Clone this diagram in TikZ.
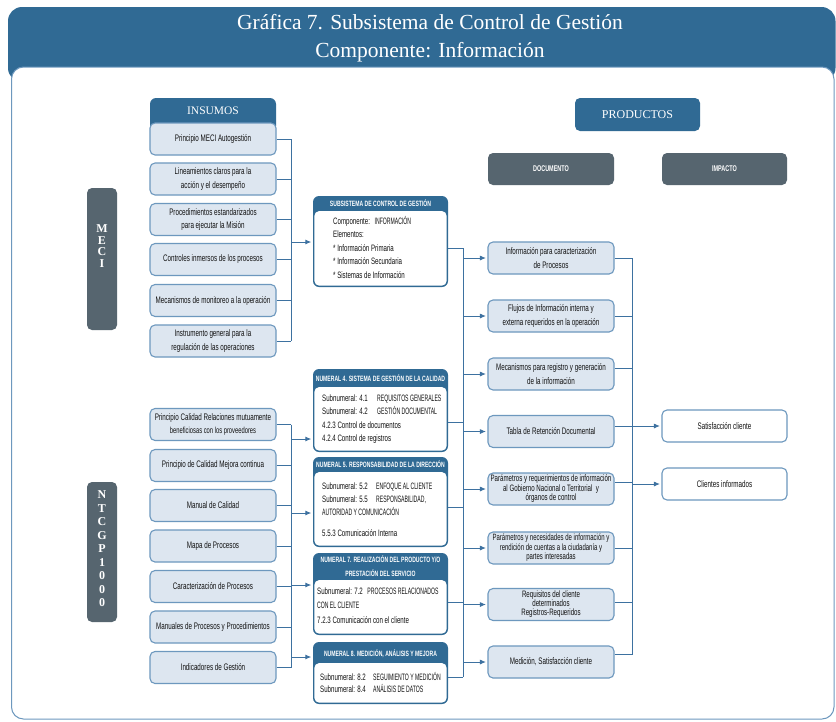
\documentclass[tikz,border=0pt]{standalone}
\usepackage{fontspec}
\setmainfont{Liberation Serif}
\newfontfamily\cond[FakeStretch=0.66]{Liberation Sans}
\newfontfamily\condc[FakeStretch=0.55]{Liberation Sans}
\usetikzlibrary{arrows.meta,calc}
\definecolor{hdrblue}{HTML}{306A94}
\definecolor{slate}{HTML}{56656F}
\definecolor{lightfill}{HTML}{DDE6F0}
\definecolor{bord}{HTML}{6D98BE}
\definecolor{lineblue}{HTML}{3D71A0}
\definecolor{txt}{HTML}{111111}
\newcommand\capsc[1]{{\condc #1}}
\begin{document}
\begin{tikzpicture}[x=1pt,y=-1pt,
  ibox/.style={draw=bord, line width=1.1pt, fill=lightfill, rounded corners=5pt, minimum width=126pt, minimum height=32pt, inner sep=1pt, align=center, text=txt, font=\cond\fontsize{9.5}{13.5}\selectfont},
  impbox/.style={ibox, fill=white, minimum width=125pt},
  grayhdr/.style={fill=slate, rounded corners=5pt, minimum width=126pt, minimum height=32pt, text=white, font=\cond\bfseries\fontsize{8.3}{9}\selectfont},
  bluehdr/.style={fill=hdrblue, rounded corners=5pt, minimum width=125pt, minimum height=33pt, text=white, font=\fontsize{12}{14}\selectfont},
  sidebar/.style={fill=slate, rounded corners=5pt, minimum width=30pt, inner sep=0pt},
  sidetext/.style={text=white, align=center, inner sep=0pt, font=\bfseries\fontsize{12}{11.5}\selectfont},
  cshell/.style={fill=hdrblue, rounded corners=6pt, minimum width=135pt, inner sep=0pt},
  chdr/.style={text=white, align=center, inner sep=0pt, font=\cond\bfseries\fontsize{7.7}{14}\selectfont},
  cbody/.style={text=txt, align=left, inner sep=0pt, anchor=north west, font=\cond\fontsize{9.3}{13.5}\selectfont},
  conn/.style={draw=lineblue, line width=0.9pt},
  arr/.style={conn, -{Latex[length=6pt,width=5pt]}, shorten >=1.5pt},
]
\useasboundingbox (0,0) rectangle (836,721);
% frame
\fill[hdrblue, rounded corners=14pt] (8,7) rectangle (835.5,82);
\draw[draw=bord, line width=1pt, fill=white, rounded corners=12pt] (11.5,67) rectangle (834,719);
\node[text=white, anchor=base, font=\fontsize{21.5}{26}\selectfont] (t1) at (430,29) {Gráfica 7. Subsistema de Control de Gestión};
\node[text=white, anchor=base, font=\fontsize{21.5}{26}\selectfont] (t2) at (430,57) {Componente: Información};

% side bars
\node[sidebar, minimum height=142pt] (meci) at (102,259) {};
\node[sidetext] (mecit) at (102,246) {M\\E\\C\\I};
\node[sidebar, minimum height=140pt] (ntc) at (102,552) {};
\node[sidetext, font=\bfseries\fontsize{12}{13.5}\selectfont] (ntct) at (102,549) {N\\T\\C\\G\\P\\1\\0\\0\\0};

% insumos header
\fill[hdrblue, rounded corners=6pt] (150,98) rectangle (276,132);
\node[text=white, font=\fontsize{11.5}{13}\selectfont] (insumos) at (213,111) {INSUMOS};

% MECI boxes
\node[ibox] (m1) at (213,139) {Principio MECI Autogestión};
\node[ibox] (m2) at (213,179) {Lineamientos claros para la\\acción y el desempeño};
\node[ibox] (m3) at (213,219.5) {Procedimientos estandarizados\\para ejecutar la Misión};
\node[ibox] (m4) at (213,259.5) {Controles inmersos de los procesos};
\node[ibox] (m5) at (213,300.5) {Mecanismos de monitoreo a la operación};
\node[ibox] (m6) at (213,341) {Instrumento general para la\\regulación de las operaciones};

% NTCGP boxes
\node[ibox] (n1) at (213,424.5) {Principio Calidad Relaciones mutuamente\\{\fontsize{8.8}{12}\selectfont beneficiosas con los proveedores}};
\node[ibox] (n2) at (213,465.5) {Principio de Calidad Mejora continua};
\node[ibox] (n3) at (213,505.5) {Manual de Calidad};
\node[ibox] (n4) at (213,546) {Mapa de Procesos};
\node[ibox] (n5) at (213,586.5) {Caracterización de Procesos};
\node[ibox] (n6) at (213,627) {Manuales de Procesos y Procedimientos};
\node[ibox] (n7) at (213,667.5) {Indicadores de Gestión};

% center boxes
\node[cshell, minimum height=91pt] (sub) at (380.5,241.5) {};
\fill[white, rounded corners=5pt] (314.3,211) rectangle (446.7,285.7);
\node[chdr] (subh) at (380.5,203.5) {SUBSISTEMA DE CONTROL DE GESTIÓN};
\node[cbody] (subb) at (333,216) {Componente:\enspace \capsc{INFORMACIÓN}\\Elementos:\\* Información Primaria\\* Información Secundaria\\* Sistemas de Información};

\node[cshell, minimum height=83pt] (c4) at (380.5,410.5) {};
\fill[white, rounded corners=5pt] (314.3,387) rectangle (446.7,450.7);
\node[chdr] (c4h) at (380.5,378) {NUMERAL 4. SISTEMA DE GESTIÓN DE LA CALIDAD};
\node[cbody, font=\cond\fontsize{9.3}{13.3}\selectfont] (c4b) at (322,394.5) {\makebox[55pt][l]{Subnumeral: 4.1}\capsc{REQUISITOS GENERALES}\\\makebox[55pt][l]{Subnumeral: 4.2}\capsc{GESTIÓN DOCUMENTAL}\\4.2.3 Control de documentos\\4.2.4 Control de registros};

\node[cshell, minimum height=90pt] (c5) at (380.5,502) {};
\fill[white, rounded corners=5pt] (314.3,472) rectangle (446.7,545.7);
\node[chdr] (c5h) at (380.5,464.5) {NUMERAL 5. RESPONSABILIDAD DE LA DIRECCIÓN};
\node[cbody, font=\cond\fontsize{9.3}{13}\selectfont] (c5b) at (322,482.5) {\makebox[54pt][l]{Subnumeral: 5.2}\capsc{ENFOQUE AL CLIENTE}\\\makebox[54pt][l]{Subnumeral: 5.5}\capsc{RESPONSABILIDAD,}\\\capsc{AUTORIDAD Y COMUNICACIÓN}\\[8pt]5.5.3 Comunicación Interna};

\node[cshell, minimum height=82pt] (c7) at (380.5,594) {};
\fill[white, rounded corners=5pt] (314.3,580) rectangle (446.7,633.7);
\node[chdr] (c7h) at (380.5,566) {NUMERAL 7. REALIZACIÓN DEL PRODUCTO Y/O\\PRESTACIÓN DEL SERVICIO};
\node[cbody, font=\cond\fontsize{9.3}{14.5}\selectfont] (c7b) at (317,587.5) {Subnumeral: 7.2\enspace \capsc{PROCESOS RELACIONADOS}\\\capsc{CON EL CLIENTE}\\7.2.3 Comunicación con el cliente};

\node[cshell, minimum height=62pt] (c8) at (380.5,673) {};
\fill[white, rounded corners=5pt] (314.3,663) rectangle (446.7,702.7);
\node[chdr] (c8h) at (380.5,653.5) {NUMERAL 8. MEDICIÓN, ANÁLISIS Y MEJORA};
\node[cbody, font=\cond\fontsize{9.3}{12}\selectfont] (c8b) at (320,672.5) {\makebox[53pt][l]{Subnumeral: 8.2}\capsc{SEGUIMIENTO Y MEDICIÓN}\\\makebox[53pt][l]{Subnumeral: 8.4}\capsc{ANÁLISIS DE DATOS}};

% products headers
\node[bluehdr] (prod) at (637.5,114.5) {PRODUCTOS};
\node[grayhdr] (doc) at (551,169) {DOCUMENTO};
\node[grayhdr, minimum width=125pt] (imp) at (724.5,169) {IMPACTO};

% document boxes
\node[ibox] (d1) at (551,258) {Información para caracterización\\de Procesos};
\node[ibox] (d2) at (551,316) {Flujos de Información interna y\\externa requeridos en la operación};
\node[ibox] (d3) at (551,374) {Mecanismos para registro y generación\\de la información};
\node[ibox] (d4) at (551,431.5) {Tabla de Retención Documental};
\node[ibox, font=\cond\fontsize{9.3}{9.5}\selectfont] (d5) at (551,489) {Parámetros y requerimientos de información\\al Gobierno Nacional o Territorial\ \ y\\órganos de control};
\node[ibox, font=\cond\fontsize{9.1}{8.3}\selectfont] (d6) at (551,548) {Parámetros y necesidades de información y\\rendición de cuentas a la ciudadanía y\\partes interesadas};
\node[ibox, font=\cond\fontsize{9.3}{9}\selectfont] (d7) at (551,604.5) {Requisitos del cliente\\determinados\\Registros-Requeridos};
\node[ibox] (d8) at (551,662) {Medición, Satisfacción cliente};

% impact boxes
\node[impbox] (i1) at (724.5,426) {Satisfacción cliente};
\node[impbox] (i2) at (724.5,484) {Clientes informados};

% bus 1 (MECI)
\coordinate (bus1) at (291,0);
\foreach \b in {m1,m2,m3,m4,m5,m6} {\draw[conn] (\b.east) -- (\b.east -| bus1);}
\draw[conn] (m1.east -| bus1) -- (m6.east -| bus1);
\coordinate (a0) at (291,242);
\draw[arr] (a0) -- (a0 -| sub.west);

% bus 2 (NTCGP)
\foreach \b in {n1,n2,n3,n4,n5,n6,n7} {\draw[conn] (\b.east) -- (\b.east -| bus1);}
\draw[conn] (n1.east -| bus1) -- (n7.east -| bus1);
\coordinate (a4) at (291,439);
\coordinate (a5) at (291,513);
\coordinate (a7) at (291,585);
\coordinate (a8) at (291,657);
\draw[arr] (a4) -- (a4 -| c4.west);
\draw[arr] (a5) -- (a5 -| c5.west);
\draw[arr] (a7) -- (a7 -| c7.west);
\draw[arr] (a8) -- (a8 -| c8.west);

% bus 3
\coordinate (s1) at (463,248);
\coordinate (s2) at (463,422);
\coordinate (s3) at (463,507);
\coordinate (s4) at (463,602);
\coordinate (s5) at (463,677);
\draw[conn] (s1 -| sub.east) -- (s1);
\draw[conn] (s2 -| c4.east) -- (s2);
\draw[conn] (s3 -| c5.east) -- (s3);
\draw[conn] (s4 -| c7.east) -- (s4);
\draw[conn] (s5 -| c8.east) -- (s5);
\draw[conn] (s1) -- (s5);
\foreach \d in {d1,d2,d3,d4,d5,d6,d7,d8} {\draw[arr] (\d.west -| s1) -- (\d.west);}

% bus 4
\draw[conn] (d1.east) -- ++(18,0);
\draw[conn] (d2.east) -- ++(18,0);
\draw[conn] ($(d3.east)+(0,-6)$) -- ++(18,0);
\draw[conn] ($(d4.east)+(0,-5.5)$) -- ++(18,0);
\draw[conn] ($(d5.east)+(0,-7)$) -- ++(18,0);
\draw[conn] (d6.east) -- ++(18,0);
\draw[conn] ($(d7.east)+(0,-2.5)$) -- ++(18,0);
\draw[conn] ($(d8.east)+(0,-8)$) -- ++(18,0);
\coordinate (u1) at (632,258);
\coordinate (u8) at (632,654);
\draw[conn] (u1) -- (u8);
\draw[arr] (i1.west -| u1) -- (i1.west);
\draw[arr] (i2.west -| u1) -- (i2.west);
\end{tikzpicture}
\end{document}
